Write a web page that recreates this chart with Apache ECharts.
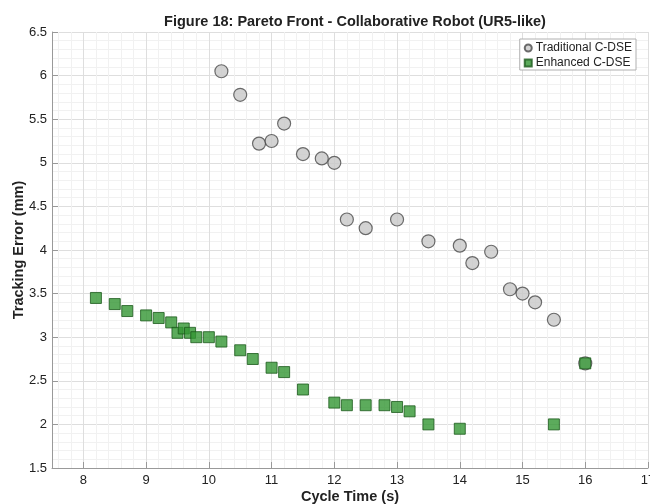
<!DOCTYPE html>
<html>
<head>
<meta charset="utf-8">
<script src="https://cdn.jsdelivr.net/npm/echarts@6/dist/echarts.min.js"></script>
<style>
  html, body { margin: 0; padding: 0; background: #fff; }
  #chart { width: 650px; height: 504px; }
</style>
</head>
<body>
<div id="chart"></div>
<script>
// Pareto front samples: cycle time (s) vs tracking error (mm)
const traditionalTime  = [10.2, 10.5, 10.8, 11.0, 11.2, 11.5, 11.8, 12.0, 12.2, 12.5, 13.0, 13.5, 14.0, 14.2, 14.5, 14.8, 15.0, 15.2, 15.5, 16.0];
const traditionalError = [6.05, 5.78, 5.22, 5.25, 5.45, 5.10, 5.05, 5.00, 4.35, 4.25, 4.35, 4.10, 4.05, 3.85, 3.98, 3.55, 3.50, 3.40, 3.20, 2.70];

const enhancedTime  = [8.2, 8.5, 8.7, 9.0, 9.2, 9.4, 9.5, 9.6, 9.7, 9.8, 10.0, 10.2, 10.5, 10.7, 11.0, 11.2, 11.5, 12.0, 12.2, 12.5, 12.8, 13.0, 13.2, 13.5, 14.0, 15.5, 16.0];
const enhancedError = [3.45, 3.38, 3.30, 3.25, 3.22, 3.17, 3.05, 3.10, 3.05, 3.00, 3.00, 2.95, 2.85, 2.75, 2.65, 2.60, 2.40, 2.25, 2.22, 2.22, 2.22, 2.20, 2.15, 2.00, 1.95, 2.00, 2.70];

const seriesNames = ['Traditional C-DSE', 'Enhanced C-DSE'];
const titleText = 'Figure 18: Pareto Front - Collaborative Robot (UR5-like)';
const xName = 'Cycle Time (s)';
const yName = 'Tracking Error (mm)';

const FONT = '"Liberation Sans", Arial, sans-serif';

const pairs = (xs, ys) => xs.map((x, i) => [x, ys[i]]);

const chart = echarts.init(document.getElementById('chart'), null, { renderer: 'canvas' });

chart.setOption({
  animation: false,
  backgroundColor: '#ffffff',
  textStyle: { fontFamily: FONT },
  title: {
    text: titleText,
    left: 350,
    textAlign: 'center',
    top: 9,
    textStyle: { fontFamily: FONT, fontSize: 14.5, fontWeight: 'bold', color: '#222' }
  },
  legend: {
    right: 14,
    top: 39,
    orient: 'vertical',
    itemGap: 3,
    itemWidth: 7,
    itemHeight: 7,
    padding: [3, 4, 1, 4],
    borderColor: '#b0b0b0',
    borderWidth: 1,
    backgroundColor: '#ffffff',
    textStyle: { fontFamily: FONT, fontSize: 12, color: '#222', padding: [0, 0, 0, -1] },
    data: [
      { name: seriesNames[0], icon: 'circle' },
      { name: seriesNames[1], icon: 'rect' }
    ]
  },
  grid: { left: 52, right: 2, top: 32, bottom: 36, containLabel: false, outerBoundsMode: 'none' },
  xAxis: {
    type: 'value',
    min: 7.5,
    max: 17,
    splitNumber: 10,
    name: xName,
    nameLocation: 'middle',
    nameGap: 21,
    nameMoveOverlap: false,
    nameTextStyle: { fontFamily: FONT, fontSize: 14.5, fontWeight: 'bold', color: '#222' },
    axisLine: { show: true, lineStyle: { color: '#999', width: 1 } },
    axisTick: { show: true, inside: true, length: 6, lineStyle: { color: '#999' } },
    axisLabel: {
      fontFamily: FONT, fontSize: 13, color: '#222', margin: 6, hideOverlap: false,
      formatter: v => (Math.abs(v - Math.round(v)) < 1e-9 ? String(Math.round(v)) : '')
    },
    splitLine: { show: true, lineStyle: { color: '#dedede', width: 1 } },
    minorTick: { show: false, splitNumber: 5 },
    minorSplitLine: { show: true, lineStyle: { color: '#f1f1f1', width: 1 } }
  },
  yAxis: {
    type: 'value',
    min: 1.5,
    max: 6.5,
    interval: 0.5,
    name: yName,
    nameLocation: 'middle',
    nameGap: 26,
    nameMoveOverlap: false,
    nameTextStyle: { fontFamily: FONT, fontSize: 14.5, fontWeight: 'bold', color: '#222' },
    axisLine: { show: true, lineStyle: { color: '#999', width: 1 } },
    axisTick: { show: true, inside: true, length: 6, lineStyle: { color: '#999' } },
    axisLabel: { fontFamily: FONT, fontSize: 13, color: '#222', margin: 5 },
    splitLine: { show: true, lineStyle: { color: '#dedede', width: 1 } },
    minorTick: { show: false, splitNumber: 5 },
    minorSplitLine: { show: true, lineStyle: { color: '#f1f1f1', width: 1 } }
  },
  series: [
    {
      name: seriesNames[0],
      type: 'scatter',
      symbol: 'circle',
      symbolSize: 13,
      z: 2,
      itemStyle: { color: '#c8c8c8', borderColor: '#4a4a4a', borderWidth: 1.2 },
      data: pairs(traditionalTime, traditionalError)
    },
    {
      name: seriesNames[1],
      type: 'scatter',
      symbol: 'rect',
      symbolSize: 11,
      z: 3,
      itemStyle: { color: '#339633', borderColor: '#1c5a1c', borderWidth: 1 },
      data: pairs(enhancedTime, enhancedError)
    }
  ]
});
</script>
</body>
</html>
